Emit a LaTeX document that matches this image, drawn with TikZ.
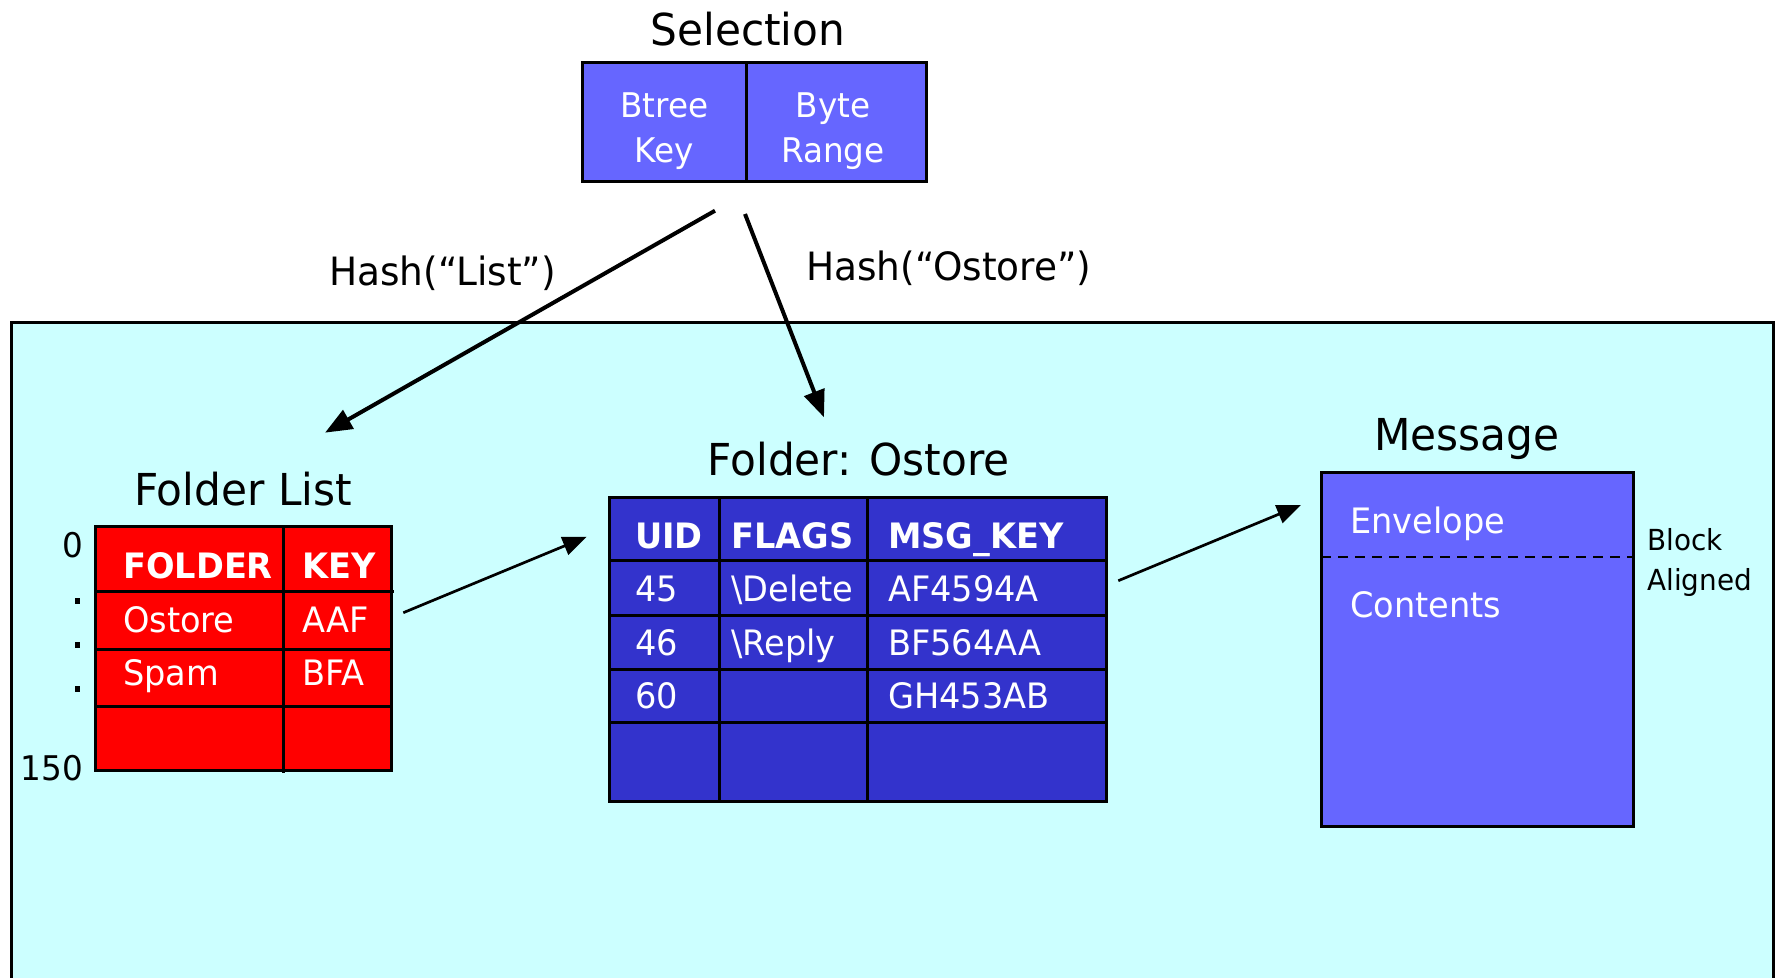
\documentclass[tikz,border=0pt]{standalone}
\usepackage{fontspec}
\setmainfont{DejaVu Sans}[FakeStretch=0.96]
\usetikzlibrary{arrows.meta}
\definecolor{cyanbg}{HTML}{CCFFFF}
\definecolor{lblue}{HTML}{6666FF}
\definecolor{dblue}{HTML}{3333CC}
\definecolor{fred}{HTML}{FF0000}
\begin{document}
\begin{tikzpicture}[x=1pt,y=-1pt,
  box/.style={draw=black,line width=3pt,inner sep=0pt,outer sep=0pt},
  grid/.style={draw=black,line width=3pt},
  title/.style={anchor=base,inner sep=0pt,font=\fontsize{44}{50}\selectfont},
  cell/.style={anchor=base west,inner sep=0pt,text=white,font=\fontsize{35}{42}\selectfont},
  hcell/.style={cell,font=\fontsize{35}{42}\selectfont\bfseries},
  ccell/.style={anchor=base,inner sep=0pt,text=white,font=\fontsize{34}{40}\selectfont},
  lbl/.style={anchor=base west,inner sep=0pt,font=\fontsize{39}{46}\selectfont},
  axis/.style={anchor=base east,inner sep=0pt,font=\fontsize{34}{40}\selectfont},
  small/.style={anchor=base west,inner sep=0pt,font=\fontsize{29}{34}\selectfont},
  bigarrow/.style={line width=4pt,-{Triangle[length=27pt,width=21pt]}},
  thinarrow/.style={line width=2.7pt,-{Triangle[length=24pt,width=19pt]}}]
\useasboundingbox (0,0) rectangle (1776,977);
\clip (0,0) rectangle (1776,977);
\fill[white] (0,0) rectangle (1776,977);
% background region
\draw[box,fill=cyanbg] (11,322) rectangle (1773,1010);

% Selection
\node[title] (seltitle) at (748,45) {Selection};
\node[box,fill=lblue,minimum width=344pt,minimum height=119.4pt] (selbox) at (754.7,122) {};
\draw[grid] (746,62.3) -- (746,181.7);
\node[ccell] (btree) at (664.4,117) {Btree};
\node[ccell] (key) at (664.4,162) {Key};
\node[ccell] (byte) at (833,117) {Byte};
\node[ccell] (range) at (833,162) {Range};
\coordinate (selA) at (715,210.7);
\coordinate (selB) at (745,214);

% Hash labels
\node[lbl] (hl) at (329,285) {Hash(“List”)};
\node[lbl] (ho) at (806,280) {Hash(“Ostore”)};

% Folder List
\node[title] (fltitle) at (243,505) {Folder List};
\node[box,fill=fred,minimum width=296pt,minimum height=244pt] (fl) at (243,648) {};
\draw[grid] (283,526) -- (283,773);
\draw[grid] (95,591.7) -- (394,591.7);
\draw[grid] (95,649) -- (391,649);
\draw[grid] (95,706.7) -- (391,706.7);
\node[hcell] (flh1) at (123,578) {FOLDER};
\node[hcell] (flh2) at (302,578) {KEY};
\node[cell] (fl11) at (123,632) {Ostore};
\node[cell] (fl12) at (302,632) {AAF};
\node[cell] (fl21) at (123,685) {Spam};
\node[cell] (fl22) at (302,685) {BFA};
\coordinate (flin) at (325,432.7);
\coordinate (flout) at (403.3,612.7);
% axis labels
\node[axis] (ax0) at (83,557) {0};
\fill (75,598) rectangle (80,604);
\fill (75,642) rectangle (80,648);
\fill (75,686) rectangle (80,692);
\node[axis] (ax150) at (83,780) {150};

% Folder: Ostore
\node[title] (fotitle) at (858.6,475) {Folder: Ostore};
\node[box,fill=dblue,minimum width=497.5pt,minimum height=304.4pt] (fo) at (857.75,649.5) {};
\draw[grid] (719.1,497.3) -- (719.1,801.7);
\draw[grid] (867.2,497.3) -- (867.2,801.7);
\foreach \yy in {560.7,615,669.3,722.7} \draw[grid] (609,\yy) -- (1106.5,\yy);
\node[hcell] (foh1) at (634.8,548.3) {UID};
\node[hcell] (foh2) at (731.2,548.3) {FLAGS};
\node[hcell] (foh3) at (887.9,548.3) {MSG\_KEY};
\node[cell] (fo11) at (634.8,601.7) {45};
\node[cell] (fo12) at (731.2,601.7) {\textbackslash Delete};
\node[cell] (fo13) at (887.9,601.7) {AF4594A};
\node[cell] (fo21) at (634.8,655) {46};
\node[cell] (fo22) at (731.2,655) {\textbackslash Reply};
\node[cell] (fo23) at (887.9,655) {BF564AA};
\node[cell] (fo31) at (634.8,708.3) {60};
\node[cell] (fo33) at (887.9,708.3) {GH453AB};
\coordinate (foin) at (824,417.3);
\coordinate (foin2) at (586.7,536.7);
\coordinate (foout) at (1118.3,580.7);

% Message
\node[title] (msgtitle) at (1467,450) {Message};
\node[box,fill=lblue,minimum width=312pt,minimum height=354pt] (msg) at (1477,649) {};
\draw[line width=2.5pt,dash pattern=on 10pt off 7pt] (1321,557) -- (1633,557);
\node[cell] (env) at (1350,533) {Envelope};
\node[cell] (cont) at (1350,617) {Contents};
\node[small] (blk1) at (1647,550) {Block};
\node[small] (blk2) at (1647,590) {Aligned};
\coordinate (msgin) at (1301,505);

% connectors
\draw[bigarrow] (selA) -- (flin);
\draw[bigarrow] (selB) -- (foin);
\draw[thinarrow] (flout) -- (foin2);
\draw[thinarrow] (foout) -- (msgin);
\end{tikzpicture}
\end{document}
